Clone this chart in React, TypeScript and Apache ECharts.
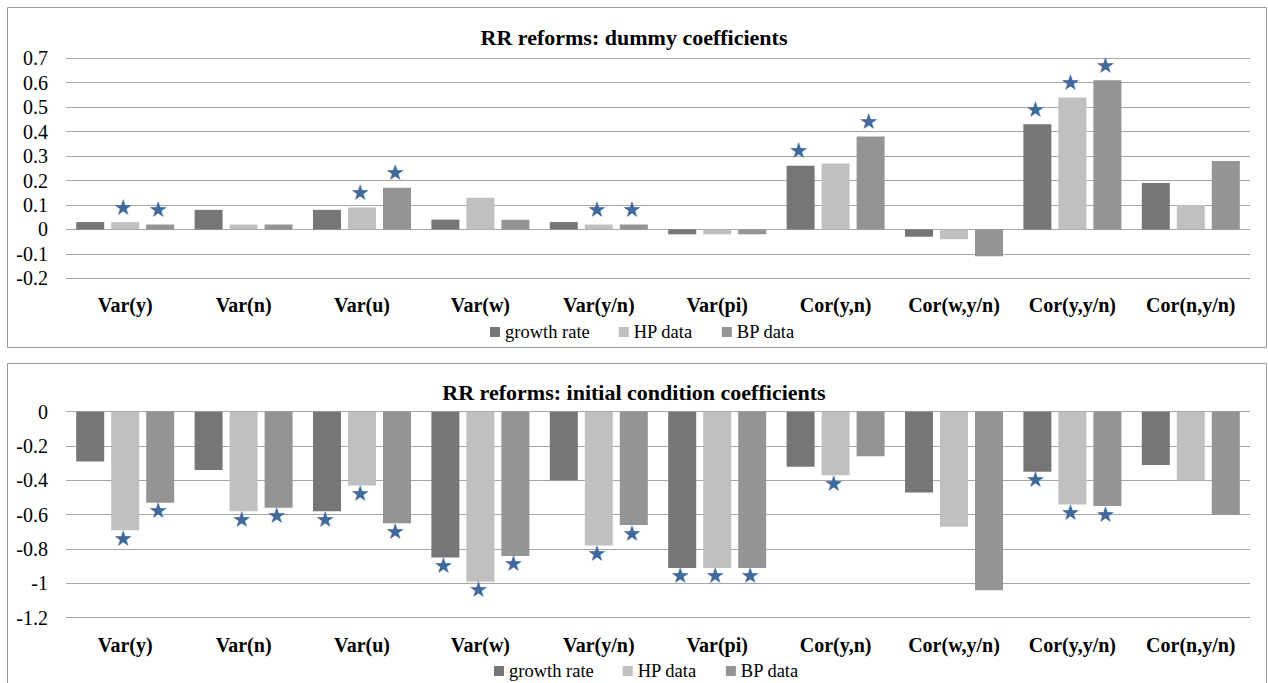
import React, { useEffect, useRef } from "react";
import * as echarts from "echarts";

const categories = ["Var(y)", "Var(n)", "Var(u)", "Var(w)", "Var(y/n)", "Var(pi)", "Cor(y,n)", "Cor(w,y/n)", "Cor(y,y/n)", "Cor(n,y/n)"];
const seriesNames = ["growth rate", "HP data", "BP data"];

const dummyGrowth = [0.03, 0.08, 0.08, 0.04, 0.03, -0.02, 0.26, -0.03, 0.43, 0.19];
const dummyHP = [0.03, 0.02, 0.09, 0.13, 0.02, -0.02, 0.27, -0.04, 0.54, 0.1];
const dummyBP = [0.02, 0.02, 0.17, 0.04, 0.02, -0.02, 0.38, -0.11, 0.61, 0.28];
const dummyStarGrowth = [0, 0, 0, 0, 0, 0, 1, 0, 1, 0];
const dummyStarHP = [1, 0, 1, 0, 1, 0, 0, 0, 1, 0];
const dummyStarBP = [1, 0, 1, 0, 1, 0, 1, 0, 1, 0];

const initGrowth = [-0.29, -0.34, -0.58, -0.85, -0.4, -0.91, -0.32, -0.47, -0.35, -0.31];
const initHP = [-0.69, -0.58, -0.43, -0.99, -0.78, -0.91, -0.37, -0.67, -0.54, -0.4];
const initBP = [-0.53, -0.56, -0.65, -0.84, -0.66, -0.91, -0.26, -1.04, -0.55, -0.6];
const initStarGrowth = [0, 0, 1, 1, 0, 1, 0, 0, 1, 0];
const initStarHP = [1, 1, 1, 1, 1, 1, 1, 0, 1, 0];
const initStarBP = [1, 1, 1, 1, 1, 1, 0, 0, 1, 0];

const colors = ["#767676", "#c0c0c0", "#949494"];
const serif = "Liberation Serif, Times New Roman, serif";
const starColor = "#41699c";

function makeData(values: number[], stars: number[]) {
  return values.map((v, i) => ({
    value: v,
    label: {
      show: stars[i] === 1,
      position: v >= 0 ? "top" : "bottom",
      distance: v >= 0 ? 4 : -3,
    },
  }));
}

function barSeries(name: string, idx: number, values: number[], stars: number[], axisIndex: number) {
  return {
    type: "bar",
    name,
    xAxisIndex: axisIndex,
    yAxisIndex: axisIndex,
    barWidth: 28,
    barGap: "25%",
    itemStyle: { color: colors[idx] },
    label: {
      formatter: "★",
      color: starColor,
      fontSize: 22,
      fontFamily: "DejaVu Sans",
      offset: [-2, 0],
    },
    emphasis: { disabled: true },
    data: makeData(values, stars),
  };
}

export default function App() {
  const ref = useRef<HTMLDivElement>(null);
  useEffect(() => {
    if (!ref.current) return;
    const chart = echarts.init(ref.current, null, { renderer: "svg" });
    const catAxis = (gridIndex: number) => ({
      type: "category",
      gridIndex,
      data: categories,
      position: "bottom",
      axisLine: { show: false, onZero: false },
      axisTick: { show: false },
      axisLabel: { fontFamily: serif, fontWeight: "bold", fontSize: 20, color: "#000", margin: 17, interval: 0 },
    });
    const valAxis = (gridIndex: number, min: number, max: number, interval: number) => ({
      type: "value",
      gridIndex,
      min,
      max,
      interval,
      axisLine: { show: false },
      axisTick: { show: false },
      axisLabel: { fontFamily: serif, fontSize: 20, color: "#000", margin: 18 },
      splitLine: { lineStyle: { color: "#a6a6a6", width: 1.2 } },
    });
    const legend = (top: number, left: number) => ({
      data: seriesNames,
      top,
      left,
      padding: 0,
      itemWidth: 10,
      itemHeight: 10,
      itemGap: 29,
      icon: "rect",
      textStyle: { fontFamily: serif, fontSize: 18.5, color: "#000", lineHeight: 20 },
    });
    chart.setOption({
      animation: false,
      backgroundColor: "#fff",
      title: [
        {
          text: "RR reforms: dummy coefficients",
          left: "center",
          top: 26,
          padding: 0,
          textStyle: { fontFamily: serif, fontSize: 22, fontWeight: "bold", color: "#000" },
        },
        {
          text: "RR reforms: initial condition coefficients",
          left: "center",
          top: 381,
          padding: 0,
          textStyle: { fontFamily: serif, fontSize: 22, fontWeight: "bold", color: "#000" },
        },
      ],
      legend: [legend(322, 490), legend(661, 494)],
      graphic: [
        { type: "rect", shape: { x: 7.5, y: 7.5, width: 1259, height: 340 }, style: { fill: "none", stroke: "#9a9a9a", lineWidth: 1 }, z: -1 },
        { type: "rect", shape: { x: 7.5, y: 363.5, width: 1259, height: 330 }, style: { fill: "none", stroke: "#9a9a9a", lineWidth: 1 }, z: -1 },
      ],
      grid: [
        { left: 66, width: 1184, top: 58.3, height: 220 },
        { left: 66, width: 1184, top: 411.7, height: 206 },
      ],
      xAxis: [catAxis(0), catAxis(1)],
      yAxis: [valAxis(0, -0.2, 0.7, 0.1), valAxis(1, -1.2, 0, 0.2)],
      series: [
        barSeries(seriesNames[0], 0, dummyGrowth, dummyStarGrowth, 0),
        barSeries(seriesNames[1], 1, dummyHP, dummyStarHP, 0),
        barSeries(seriesNames[2], 2, dummyBP, dummyStarBP, 0),
        barSeries(seriesNames[0], 0, initGrowth, initStarGrowth, 1),
        barSeries(seriesNames[1], 1, initHP, initStarHP, 1),
        barSeries(seriesNames[2], 2, initBP, initStarBP, 1),
      ],
    });
    return () => chart.dispose();
  }, []);
  return <div ref={ref} style={{ position: "fixed", left: 0, top: 0, width: 1268, height: 683 }} />;
}
